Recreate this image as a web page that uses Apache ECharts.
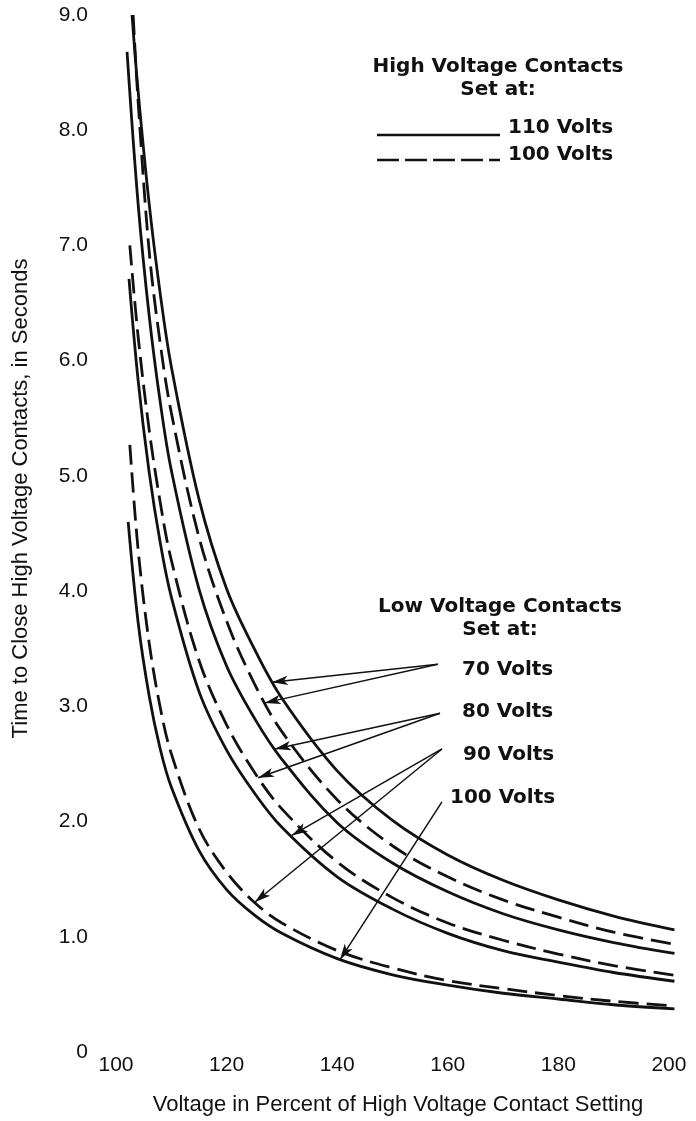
<!DOCTYPE html>
<html><head><meta charset="utf-8">
<script src="https://cdn.jsdelivr.net/npm/echarts@6/dist/echarts.min.js"></script>
<style>html,body{margin:0;padding:0;background:#fff}#c{width:696px;height:1121px}</style>
</head><body><div id="c"></div>
<script>
const xTickValues = [100, 120, 140, 160, 180, 200];

// [percent of high-voltage setting, seconds]
// solid = HV contacts set at 110 V, dashed = HV contacts set at 100 V
const lv70_hv110 = [[102.9,9.0],[104,8.34],[106,7.36],[108,6.58],[110,5.95],[115,4.80],[120,4.02],[125,3.50],[130,3.07],[140,2.44],[150,2.01],[160,1.71],[170,1.49],[180,1.32],[190,1.18],[201,1.06]];
const lv70_hv100 = [[103.1,9.0],[104,8.25],[106,6.95],[108,6.15],[110,5.55],[115,4.47],[120,3.74],[125,3.20],[130,2.78],[140,2.19],[150,1.79],[160,1.52],[170,1.32],[180,1.17],[190,1.04],[201,0.935]];
const lv80_hv110 = [[102.0,8.68],[104,7.36],[106,6.39],[108,5.64],[110,5.05],[115,4.02],[120,3.35],[125,2.90],[130,2.54],[140,1.99],[150,1.64],[160,1.39],[170,1.20],[180,1.06],[190,0.95],[201,0.855]];
const lv80_hv100 = [[102.5,7.0],[104,6.21],[106,5.40],[108,4.77],[110,4.27],[115,3.40],[120,2.84],[125,2.43],[130,2.11],[140,1.65],[150,1.34],[160,1.12],[170,0.97],[180,0.85],[190,0.75],[201,0.665]];
const lv90_hv110 = [[102.35,6.71],[104,5.83],[106,5.03],[108,4.42],[110,3.95],[115,3.13],[120,2.62],[125,2.25],[130,1.95],[140,1.52],[150,1.24],[160,1.03],[170,0.88],[180,0.78],[190,0.69],[201,0.614]];
const lv90_hv100 = [[102.5,5.27],[104,4.36],[106,3.55],[108,2.99],[110,2.59],[115,1.94],[120,1.56],[125,1.30],[130,1.12],[140,0.88],[150,0.73],[160,0.62],[170,0.55],[180,0.49],[190,0.44],[201,0.40]];
const lv100_hv110 = [[102.2,4.6],[104,3.73],[106,3.09],[108,2.63],[110,2.30],[115,1.75],[120,1.41],[125,1.19],[130,1.03],[140,0.81],[150,0.67],[160,0.58],[170,0.51],[180,0.46],[190,0.41],[201,0.375]];

// pointer arrows: [tail, head] in data units
const arrows70 = [[[158.2,3.365],[128.2,3.21]], [[158.2,3.365],[126.9,3.03]]];
const arrows80 = [[[158.6,2.94],[128.75,2.63]], [[158.6,2.94],[125.7,2.38]]];
const arrows90 = [[[158.95,2.63],[131.8,1.88]], [[158.95,2.63],[125.1,1.30]]];
const arrows100 = [[[158.95,2.17],[140.5,0.80]]];

const INK = '#111';
const FONT = '"Liberation Sans", Arial, Helvetica, sans-serif';
const BOLD = 'bold 20px "DejaVu Sans", sans-serif';
const DASH = [20, 8];

function arrowLines(list) {
  return {
    silent: true,
    symbol: ['none', 'arrow'],
    symbolSize: [7, 16],
    label: {show: false},
    emphasis: {disabled: true},
    lineStyle: {color: INK, width: 1.5, type: 'solid'},
    data: list.map(a => [{coord: a[0]}, {coord: a[1]}])
  };
}

function curve(name, data, dashed, arrows) {
  return {
    name: name, type: 'line', data: data, smooth: 0.35, showSymbol: false,
    lineStyle: {color: INK, width: 2.8, type: dashed ? DASH : 'solid'},
    itemStyle: {color: INK},
    z: 3,
    markLine: arrowLines(arrows)
  };
}

function txt(text, x, y, align) {
  return {type: 'text', x: x, y: y, style: {text: text, font: BOLD, fill: INK, align: align || 'left', verticalAlign: 'middle'}};
}

const chart = echarts.init(document.getElementById('c'), null, {renderer: 'canvas'});
chart.setOption({
  backgroundColor: '#fff',
  animation: false,
  textStyle: {fontFamily: FONT, color: INK},
  grid: {left: 116, right: 16, top: 15, bottom: 63},
  xAxis: {
    type: 'value', min: 100, max: 202,
    name: 'Voltage in Percent of High Voltage Contact Setting',
    nameLocation: 'middle', nameGap: 42,
    nameTextStyle: {fontSize: 22, color: INK, fontFamily: FONT},
    axisLine: {show: false}, axisTick: {show: false}, splitLine: {show: false},
    axisLabel: {customValues: xTickValues, fontSize: 21, color: INK, margin: 3, fontFamily: FONT}
  },
  yAxis: {
    type: 'value', min: 0, max: 9, interval: 1,
    name: 'Time to Close High Voltage Contacts, in Seconds',
    nameLocation: 'middle', nameGap: 84, nameRotate: 90,
    nameTextStyle: {fontSize: 22, color: INK, fontFamily: FONT, padding: [0, 0, 0, 70]},
    axisLine: {show: false}, axisTick: {show: false}, splitLine: {show: false},
    axisLabel: {fontSize: 21, color: INK, margin: 28, fontFamily: FONT,
      formatter: v => v === 0 ? '0' : v.toFixed(1)}
  },
  graphic: [
    txt('High Voltage Contacts', 498, 67, 'center'),
    txt('Set at:', 498, 90, 'center'),
    {type: 'line', shape: {x1: 377, y1: 135, x2: 500, y2: 135}, style: {stroke: INK, lineWidth: 2.4}},
    {type: 'line', shape: {x1: 377, y1: 160, x2: 500, y2: 160}, style: {stroke: INK, lineWidth: 2.4, lineDash: [22, 6]}},
    txt('110 Volts', 508, 128),
    txt('100 Volts', 508, 155),
    txt('Low Voltage Contacts', 500, 607, 'center'),
    txt('Set at:', 500, 630, 'center'),
    txt('70 Volts', 462, 670),
    txt('80 Volts', 462, 712),
    txt('90 Volts', 463, 755),
    txt('100 Volts', 450, 798)
  ],
  series: [
    curve('LV 70 V, HV 110 V', lv70_hv110, false, arrows70.slice(0, 1)),
    curve('LV 70 V, HV 100 V', lv70_hv100, true, arrows70.slice(1)),
    curve('LV 80 V, HV 110 V', lv80_hv110, false, arrows80.slice(0, 1)),
    curve('LV 80 V, HV 100 V', lv80_hv100, true, arrows80.slice(1)),
    curve('LV 90 V, HV 110 V', lv90_hv110, false, arrows90.slice(0, 1)),
    curve('LV 90 V, HV 100 V', lv90_hv100, true, arrows90.slice(1)),
    curve('LV 100 V, HV 110 V', lv100_hv110, false, arrows100)
  ]
});
</script></body></html>
